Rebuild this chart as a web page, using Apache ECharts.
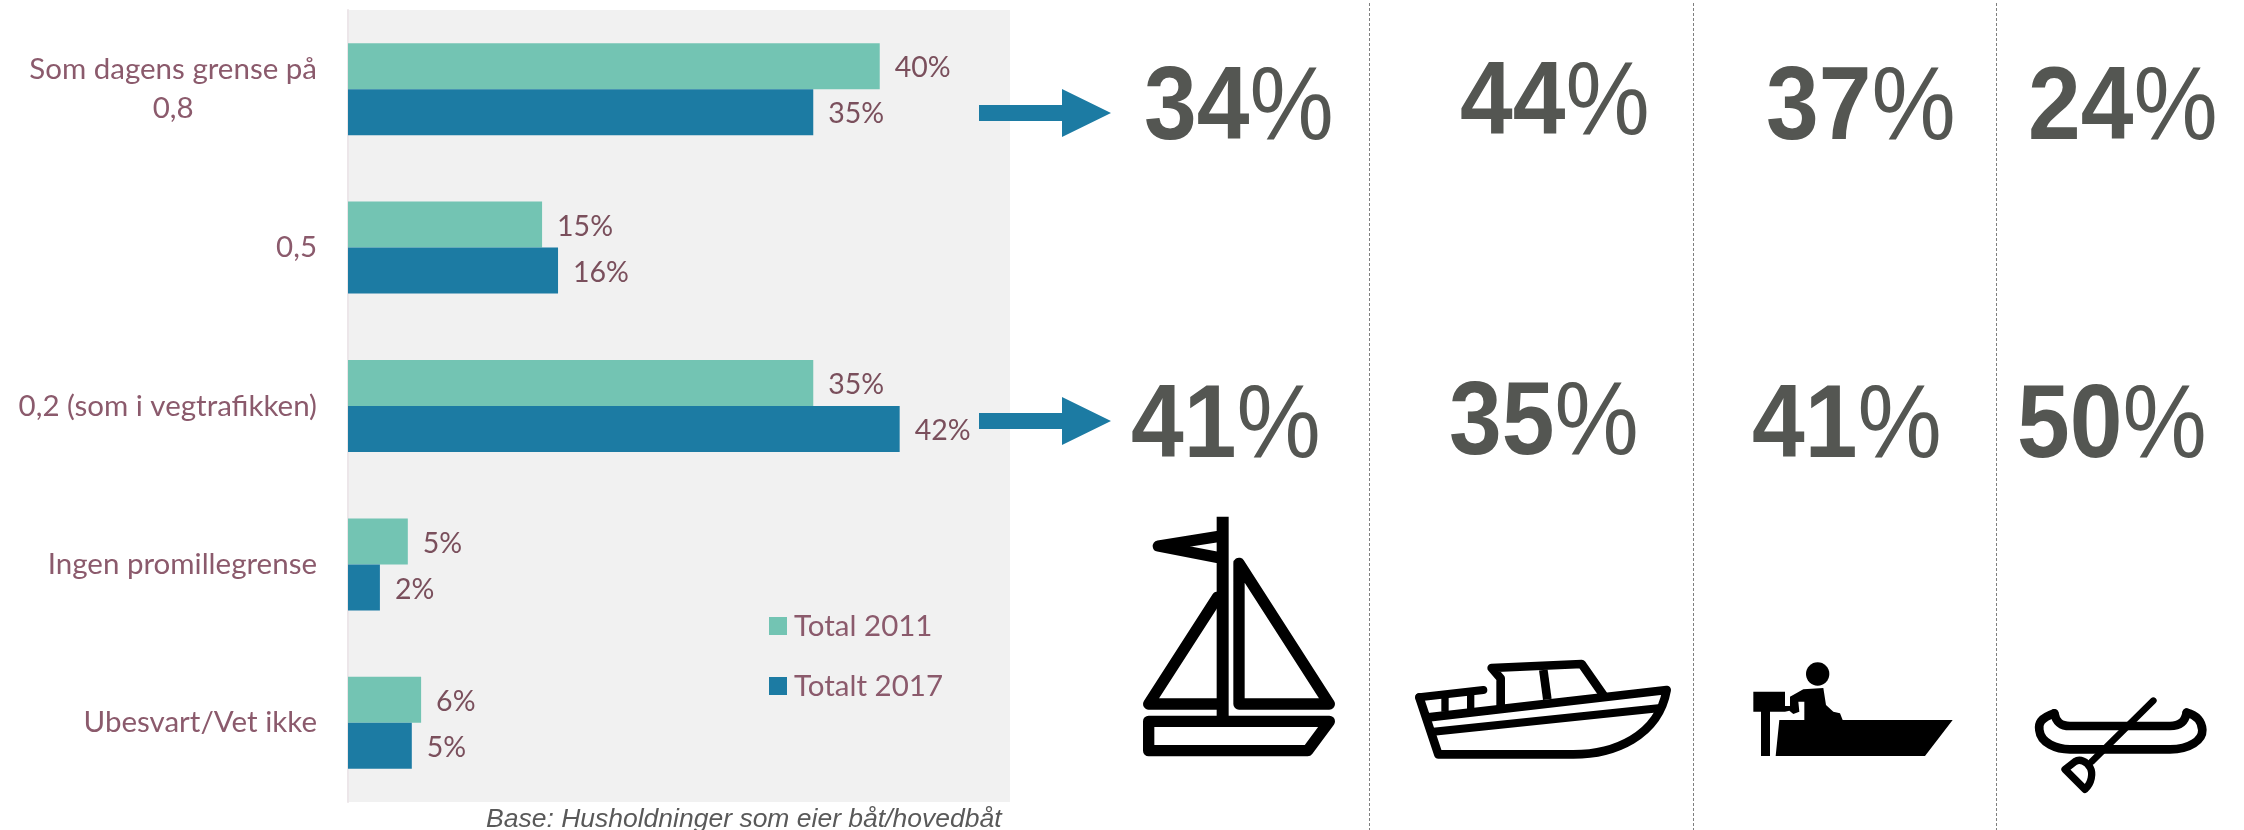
<!DOCTYPE html>
<html><head><meta charset="utf-8">
<style>html,body{margin:0;padding:0;background:#fff}#c{width:2244px;height:830px}</style>
<script src="https://cdn.jsdelivr.net/npm/echarts@6/dist/echarts.min.js"></script>
</head><body><div id="c"></div>
<script>
const categories = ['Som dagens grense på\n0,8', '0,5', '0,2 (som i vegtrafikken)', 'Ingen promillegrense', 'Ubesvart/Vet ikke'];
const seriesNames = ['Total 2011', 'Totalt 2017'];
const total2011 = [40, 14.6, 35, 4.5, 5.5];
const total2017 = [35, 15.8, 41.5, 2.4, 4.8];
const row08 = [34, 44, 37, 24];
const row02 = [41, 35, 41, 50];
const footnote = 'Base: Husholdninger som eier båt/hovedbåt';

const FONT = 'Lato';
const TEAL = '#73c4b3', BLUE = '#1c7ba3', LABEL = '#8b5a6c', VALUE = '#7a4f5c', BIG = '#545652';

const chart = echarts.init(document.getElementById('c'), null, {renderer: 'canvas'});

function bar(name, data, color) {
  return {
    name, type: 'bar', data, barWidth: 46, barGap: 0, silent: true, animation: false,
    itemStyle: {color},
    label: {show: true, position: 'right', distance: 15, offset: [0, 2], fontFamily: FONT, fontSize: 28.5, color: VALUE,
      formatter: p => Math.round(p.value) + '%'}
  };
}
function bigText(v, x, y) {
  return {type: 'text', x: x + 4, y: y + 7, scaleX: 0.92, style: {
    text: `{d|${v}}{p|%}`, textAlign: 'left', textVerticalAlign: 'middle',
    rich: {
      d: {fontFamily: 'Liberation Sans', fontWeight: 'bold', fontSize: 103, fill: BIG, color: BIG},
      p: {fontFamily: 'Liberation Sans', fontWeight: 'normal', fontSize: 103, fill: BIG, color: BIG}
    }}};
}
function divider(x) {
  return {type: 'line', shape: {x1: x, y1: 3, x2: x, y2: 830},
    style: {stroke: '#7f7f7f', lineWidth: 1, lineDash: [3, 2]}};
}
function arrow(y) {
  return {type: 'polygon', shape: {points: [[979, y - 8], [1062, y - 8], [1062, y - 24], [1111, y], [1062, y + 24], [1062, y + 8], [979, y + 8]]},
    style: {fill: BLUE}, z: 10};
}
let shapeId = 0;
function icon(x, y, paths) {
  return {type: 'group', x, y, scaleX: 1 / 3, scaleY: 1 / 3, children: paths.map(p => {
    const name = 'iconShape' + (shapeId++);
    echarts.graphic.registerShape(name, echarts.graphic.extendPath(p.d, {}));
    return {type: name, shape: {},
      style: p.fill ? {fill: '#000', stroke: null} : {fill: 'none', stroke: '#000', lineWidth: p.w, lineJoin: 'round', lineCap: p.cap || 'round'}};
  })};
}
const sail = icon(1130, 510, [
  {fill: 1, d: 'M260 20 L296 20 L296 630 L260 630 Z'},
  {w: 34, d: 'M262 80 L85 108 L262 142'},
  {w: 34, d: 'M262 262 L56 582 L262 582'},
  {w: 34, d: 'M327 160 L327 582 L598 582 Z'},
  {w: 34, d: 'M56 634 L598 634 L533 722 L56 722 Z'}
]);
const cabin = icon(1400, 640, [
  {w: 26, d: 'M58 172 L115 343 L520 343 C640 343 775 290 800 150 L85 232'},
  {w: 24, d: 'M100 275 L775 205'},
  {w: 24, d: 'M58 172 L250 150'},
  {w: 22, d: 'M135 172 L135 215 M212 165 L212 208', cap: 'butt'},
  {w: 26, d: 'M302 205 L302 115 L275 84 L545 72 L610 165'},
  {w: 26, d: 'M430 90 L442 178', cap: 'butt'}
]);
const motor = icon(1740, 650, [
  {fill: 1, d: 'M198 72 A35 35 0 1 1 268 72 A35 35 0 1 1 198 72 Z'},
  {fill: 1, d: 'M190 118 L250 114 L258 165 L280 185 L300 190 L308 210 L638 210 L555 318 L107 318 L118 210 L193 210 L193 155 L175 155 L178 185 L160 192 L148 182 L135 185 L90 185 L90 318 L63 318 L63 185 L40 185 L40 125 L135 125 L135 168 L150 168 L150 140 Z'}
]);
const canoe = icon(2020, 680, [
  {w: 26, d: 'M103 100 C60 115 55 130 58 150 C62 190 110 208 150 208 L450 208 C510 208 548 180 547 150 C546 125 530 105 500 98'},
  {w: 26, d: 'M103 100 C108 125 120 138 150 138 L450 138 C480 138 495 125 500 98'},
  {w: 20, d: 'M400 62 L215 245'},
  {w: 22, d: 'M165 245 L135 268 L195 328 C215 310 220 280 210 262 C200 245 180 235 165 245 Z'}
]);

const graphic = [
  divider(1369.5), divider(1693.5), divider(1996.5),
  arrow(113), arrow(421),
  bigText(row08[0], 1140, 104), bigText(row08[1], 1456, 99), bigText(row08[2], 1762, 104), bigText(row08[3], 2024, 104),
  bigText(row02[0], 1127, 422), bigText(row02[1], 1445, 419), bigText(row02[2], 1748, 422), bigText(row02[3], 2013, 422),
  sail, cabin, motor, canoe
];

chart.setOption({
  animation: false,
  backgroundColor: '#fff',
  grid: {left: 348, top: 10, width: 662, height: 792, show: true, backgroundColor: '#f1f1f1', borderWidth: 0},
  xAxis: {type: 'value', min: 0, max: 49.8, show: false},
  yAxis: {type: 'category', inverse: true, data: categories,
    axisLine: {show: true, lineStyle: {color: '#ece6e9', width: 2}},
    axisTick: {show: false},
    axisLabel: {margin: 31, fontFamily: FONT, fontSize: 29.5, color: LABEL, align: 'right',
      formatter: v => v.includes('\n') ? v.split('\n').map(s => `{c|${s}}`).join('\n') : v,
      rich: {c: {fontFamily: FONT, fontSize: 29.5, color: LABEL, align: 'center', lineHeight: 39}}}
  },
  legend: {orient: 'vertical', left: 769, top: 611, padding: 0, itemWidth: 18, itemHeight: 18, itemGap: 30, icon: 'rect',
    selectedMode: false, data: seriesNames,
    textStyle: {fontFamily: FONT, fontSize: 29.5, lineHeight: 30, color: LABEL, padding: [0, 0, 0, 2]}},
  title: {text: footnote, left: 486, top: 806, padding: 0,
    textStyle: {fontFamily: 'Liberation Sans', fontStyle: 'italic', fontWeight: 'normal', fontSize: 26.5, color: '#595959'}},
  series: [bar(seriesNames[0], total2011, TEAL), bar(seriesNames[1], total2017, BLUE)],
  graphic
});
</script></body></html>
